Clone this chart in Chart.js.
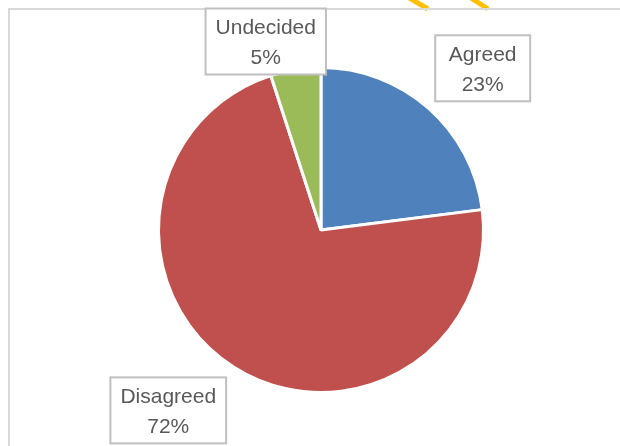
<!DOCTYPE html>
<html>
<head>
<meta charset="utf-8">
<script src="https://cdn.jsdelivr.net/npm/chart.js@4.4.0/dist/chart.umd.min.js"></script>
<style>
  html, body { margin: 0; padding: 0; background: #ffffff; }
  #wrap { width: 620px; height: 446px; position: relative; }
</style>
</head>
<body>
<div id="wrap"><canvas id="mycanvas" width="620" height="446"></canvas></div>
<script>
var categories = ["Agreed", "Disagreed", "Undecided"];
var values = [23, 72, 5];
var colors = ["#4f81bd", "#c0504d", "#9bbb59"];

// where each label box sits, relative to the pie centre, in units of radius
var labelSpots = [[0.995, -0.995], [-0.94, 1.11], [-0.34, -1.16]];

var frame = {
	id: "frame",
	beforeDraw: function(chart) {
		var c = chart.ctx;
		c.save();
		// yellow scribble peeking in at the top
		c.strokeStyle = "#ffc000";
		c.lineWidth = 5;
		c.beginPath();
		c.moveTo(406, -4); c.lineTo(428, 9);
		c.moveTo(468, -4); c.lineTo(488, 9);
		c.stroke();
		c.strokeStyle = "#d9d9d9";
		c.lineWidth = 2;
		c.beginPath();
		c.moveTo(620, 9);
		c.lineTo(9, 9);
		c.lineTo(9, 446);
		c.stroke();
		c.restore();
	}
};

var boxLabels = {
	id: "boxLabels",
	afterDatasetsDraw: function(chart) {
		var c = chart.ctx;
		var meta = chart.getDatasetMeta(0);
		var total = values.reduce(function(a, b) { return a + b; }, 0);
		c.save();
		c.font = "21px 'Liberation Sans', Arial, sans-serif";
		c.textAlign = "center";
		c.textBaseline = "middle";
		for (var i = 0; i < meta.data.length; i++) {
			var arc = meta.data[i];
			var r = arc.outerRadius;
			var cx = arc.x + labelSpots[i][0] * r;
			var cy = arc.y + labelSpots[i][1] * r;
			var l1 = categories[i];
			var l2 = Math.round(values[i] / total * 100) + "%";
			var w = Math.max(c.measureText(l1).width + 20, c.measureText(l2).width + 20, 95);
			var h = 66;
			c.fillStyle = "#ffffff";
			c.fillRect(cx - w / 2, cy - h / 2, w, h);
			c.strokeStyle = "#bfbfbf";
			c.lineWidth = 2;
			c.strokeRect(cx - w / 2, cy - h / 2, w, h);
			c.fillStyle = "#595959";
			c.fillText(l1, cx, cy - 13);
			c.fillText(l2, cx, cy + 17);
		}
		c.restore();
	}
};

var ctx = document.getElementById("mycanvas");

var PieChart = new Chart(ctx, {
	type: "pie",
	data: {
		labels: categories,
		datasets: [
			{
				data: values,
				backgroundColor: colors,
				borderColor: "#ffffff",
				borderWidth: 3
			}
		]
	},
	options: {
		responsive: false,
		animation: false,
		radius: 162.5,
		layout: { padding: { left: 151, right: 129, top: 60, bottom: 46 } },
		plugins: {
			legend: { display: false },
			tooltip: { enabled: false }
		}
	},
	plugins: [frame, boxLabels]
});
</script>
</body>
</html>
